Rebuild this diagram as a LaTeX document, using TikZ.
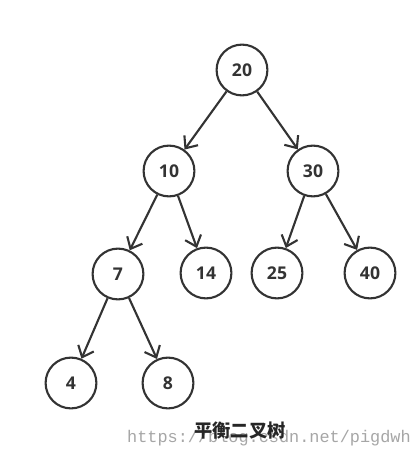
\documentclass[tikz,border=0pt]{standalone}
\usepackage{fontspec}
\setmainfont{Open Sans}
\newfontfamily\cjk{Noto Sans CJK SC}
\newfontfamily\wmfont{Liberation Mono}
\usepackage{tikz}
\usetikzlibrary{
  arrows.meta
}
\tikzset{
  treenode/.style = {
    circle,
    draw=black!80,
    line width=1.5pt,
    minimum size=1.27cm,
    inner sep=0pt,
    text=black!80,
    font=\bfseries\fontsize{12.5}{14}\selectfont
  },
  treeedge/.style = {
    draw=black!80,
    line width=1.5pt,
    -{Straight Barb[length=7pt, width=12pt, line width=1.5pt]}
  }
}

\begin{document}
\begin{tikzpicture}[x=0.025cm, y=-0.025cm]

    % canvas
    \useasboundingbox (0,0) rectangle (419,458);

    % Tree nodes
    \foreach \name/\x/\y in {
        20/242/70,
        10/169/171,
        30/313/171,
        7/118/274,
        14/206/273,
        25/277/273,
        40/370/273,
        4/71/383,
        8/168/383%
    } {
        \node[treenode] (n\name) at (\x,\y) {\name};
    }

    % Parent-child edges
    \foreach \from/\to in {
        20/10,
        20/30,
        10/7,
        10/14,
        30/25,
        30/40,
        7/4,
        7/8%
    } {
        \draw[treeedge] (n\from) -- (n\to);
    }

    % Caption and watermark
    \node[text=black!35, font=\wmfont\fontsize{12}{14}\selectfont] (mark) at (269,438) {https://blog.csdn.net/pigdwh};
    \node[text=black!85, font=\cjk\bfseries\fontsize{13}{14}\selectfont] (title) at (240,431) {平衡二叉树};

\end{tikzpicture}
\end{document}
